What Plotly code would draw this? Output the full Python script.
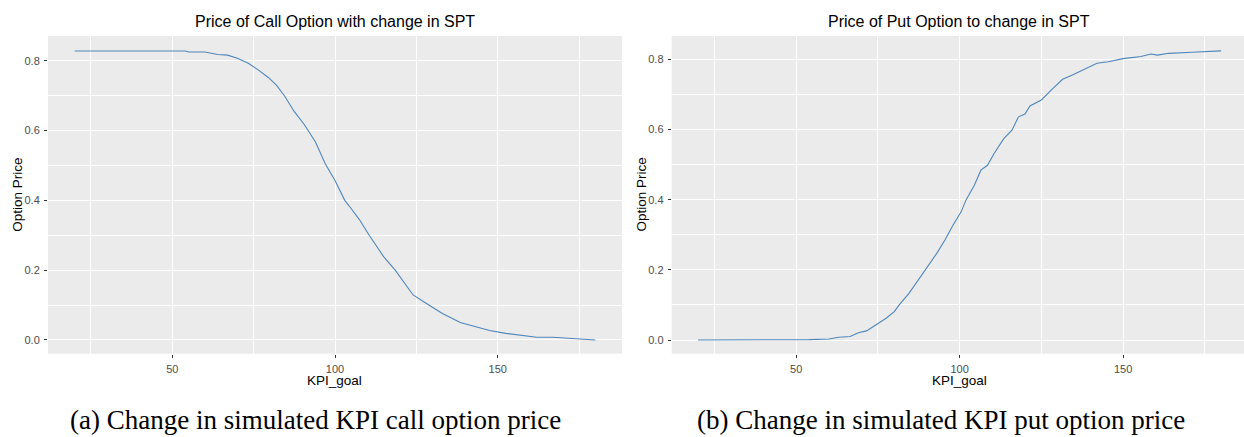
import plotly.graph_objects as go

# ---- data ----
call_x = [20, 30, 40, 50, 54, 55, 60, 64, 67, 70, 73.5, 76.5, 79.5, 82, 84.5, 87.5, 90.5, 94, 97, 100,
          103, 105, 107.5, 110.5, 115, 118.5, 121, 124, 128, 133, 138.5, 142.5, 147.5, 152.5, 157.5,
          162, 167, 172, 175.5, 180]
call_y = [0.828, 0.828, 0.828, 0.828, 0.828, 0.825, 0.825, 0.818, 0.816, 0.807, 0.792, 0.773, 0.752,
          0.730, 0.699, 0.654, 0.618, 0.567, 0.505, 0.457, 0.400, 0.376, 0.345, 0.300, 0.238, 0.200,
          0.167, 0.129, 0.105, 0.076, 0.050, 0.040, 0.027, 0.019, 0.014, 0.008, 0.008, 0.005, 0.002, 0.0]

put_x = [20, 30, 40, 50, 54, 60, 63, 66.5, 69, 71.5, 75, 77.5, 80, 81.5, 84.5, 87, 90, 93, 95.5, 98,
         100.5, 102, 104.5, 106.5, 108.5, 110.5, 113.5, 116, 118, 120, 121.5, 125, 128, 131.5, 134.5,
         138.5, 142, 145.5, 150, 155.5, 158.5, 160.5, 164, 171, 180]
put_y = [0.0, 0.0, 0.0, 0.0, 0.001, 0.003, 0.008, 0.010, 0.021, 0.026, 0.046, 0.062, 0.081, 0.100,
         0.133, 0.166, 0.209, 0.247, 0.285, 0.328, 0.366, 0.400, 0.441, 0.484, 0.498, 0.531, 0.574,
         0.598, 0.636, 0.644, 0.667, 0.684, 0.712, 0.743, 0.755, 0.774, 0.789, 0.793, 0.802, 0.808,
         0.815, 0.812, 0.817, 0.820, 0.824]

x_ticks = [50, 100, 150]
y_ticks = [0.0, 0.2, 0.4, 0.6, 0.8]

titles = ["Price of Call Option with change in SPT", "Price of Put Option to change in SPT"]
captions = ["(a) Change in simulated KPI call option price", "(b) Change in simulated KPI put option price"]
x_title = "KPI_goal"
y_title = "Option Price"

W, H = 1244, 437
LINE = "#4F86BC"
BG = "#EBEBEB"
SANS = "Liberation Sans, Arial, sans-serif"
SERIF = "Liberation Serif, Times New Roman, serif"

fig = go.Figure()
fig.add_trace(go.Scatter(x=call_x, y=call_y, mode="lines", line=dict(color=LINE, width=1.1),
                         xaxis="x", yaxis="y", showlegend=False))
fig.add_trace(go.Scatter(x=put_x, y=put_y, mode="lines", line=dict(color=LINE, width=1.1),
                         xaxis="x2", yaxis="y2", showlegend=False))

def px_x(p):
    return p / W

def px_y(p):
    return (H - p) / H

common_x = dict(tickvals=x_ticks, ticks="outside", ticklen=3, tickcolor="#333333", tickwidth=1,
                tickfont=dict(family=SANS, size=11, color="#4D4D4D"), showgrid=True,
                gridcolor="white", gridwidth=1.1, zeroline=False, showline=False,
                minor=dict(dtick=50, tick0=25, showgrid=True, gridcolor="white", gridwidth=0.6, ticks=""),
                ticklabelstandoff=2)
common_y = dict(tickvals=y_ticks, tickformat=".1f", ticks="outside", ticklen=3, tickcolor="#333333",
                tickwidth=1, tickfont=dict(family=SANS, size=11, color="#4D4D4D"), showgrid=True,
                gridcolor="white", gridwidth=1.1, zeroline=False, showline=False,
                minor=dict(dtick=0.2, tick0=0.1, showgrid=True, gridcolor="white", gridwidth=0.6, ticks=""),
                ticklabelstandoff=2)

top, bot = 36, 353.7
l1, r1 = 48, 622
l2, r2 = 671.7, 1244

fig.update_layout(
    width=W, height=H, margin=dict(l=0, r=0, t=0, b=0),
    paper_bgcolor="white", plot_bgcolor=BG,
    xaxis=dict(domain=[px_x(l1), px_x(r1)], range=[11.8, 188.2], anchor="y", **common_x),
    yaxis=dict(domain=[px_y(bot), px_y(top)], range=[-0.0393, 0.8708], anchor="x", **common_y),
    xaxis2=dict(domain=[px_x(l2), px_x(r2)], range=[11.9, 187.0], anchor="y2", **common_x),
    yaxis2=dict(domain=[px_y(bot), px_y(top)], range=[-0.039, 0.8664], anchor="x2", **common_y),
)

ann = []
for i, (l, r) in enumerate([(l1, r1), (l2, r2 + 3)]):
    cx = (l + r) / 2
    ann.append(dict(text=titles[i], x=px_x(cx), y=px_y(22), xref="paper", yref="paper",
                    xanchor="center", yanchor="middle", showarrow=False,
                    font=dict(family=SANS, size=16, color="black")))
    ann.append(dict(text=x_title, x=px_x(cx), y=px_y(380.5), xref="paper", yref="paper",
                    xanchor="center", yanchor="middle", showarrow=False,
                    font=dict(family=SANS, size=13.5, color="black")))
    ann.append(dict(text=y_title, x=px_x(l - 30), y=px_y((top + bot) / 2), xref="paper", yref="paper",
                    xanchor="center", yanchor="middle", showarrow=False, textangle=-90,
                    font=dict(family=SANS, size=13.5, color="black")))
cap_centers = [315, 941]
for i, c in enumerate(cap_centers):
    ann.append(dict(text=captions[i], x=px_x(c), y=px_y(420), xref="paper", yref="paper",
                    xanchor="center", yanchor="middle", showarrow=False,
                    font=dict(family=SERIF, size=27, color="black")))
fig.update_layout(annotations=ann)

fig.write_html("out.html")
